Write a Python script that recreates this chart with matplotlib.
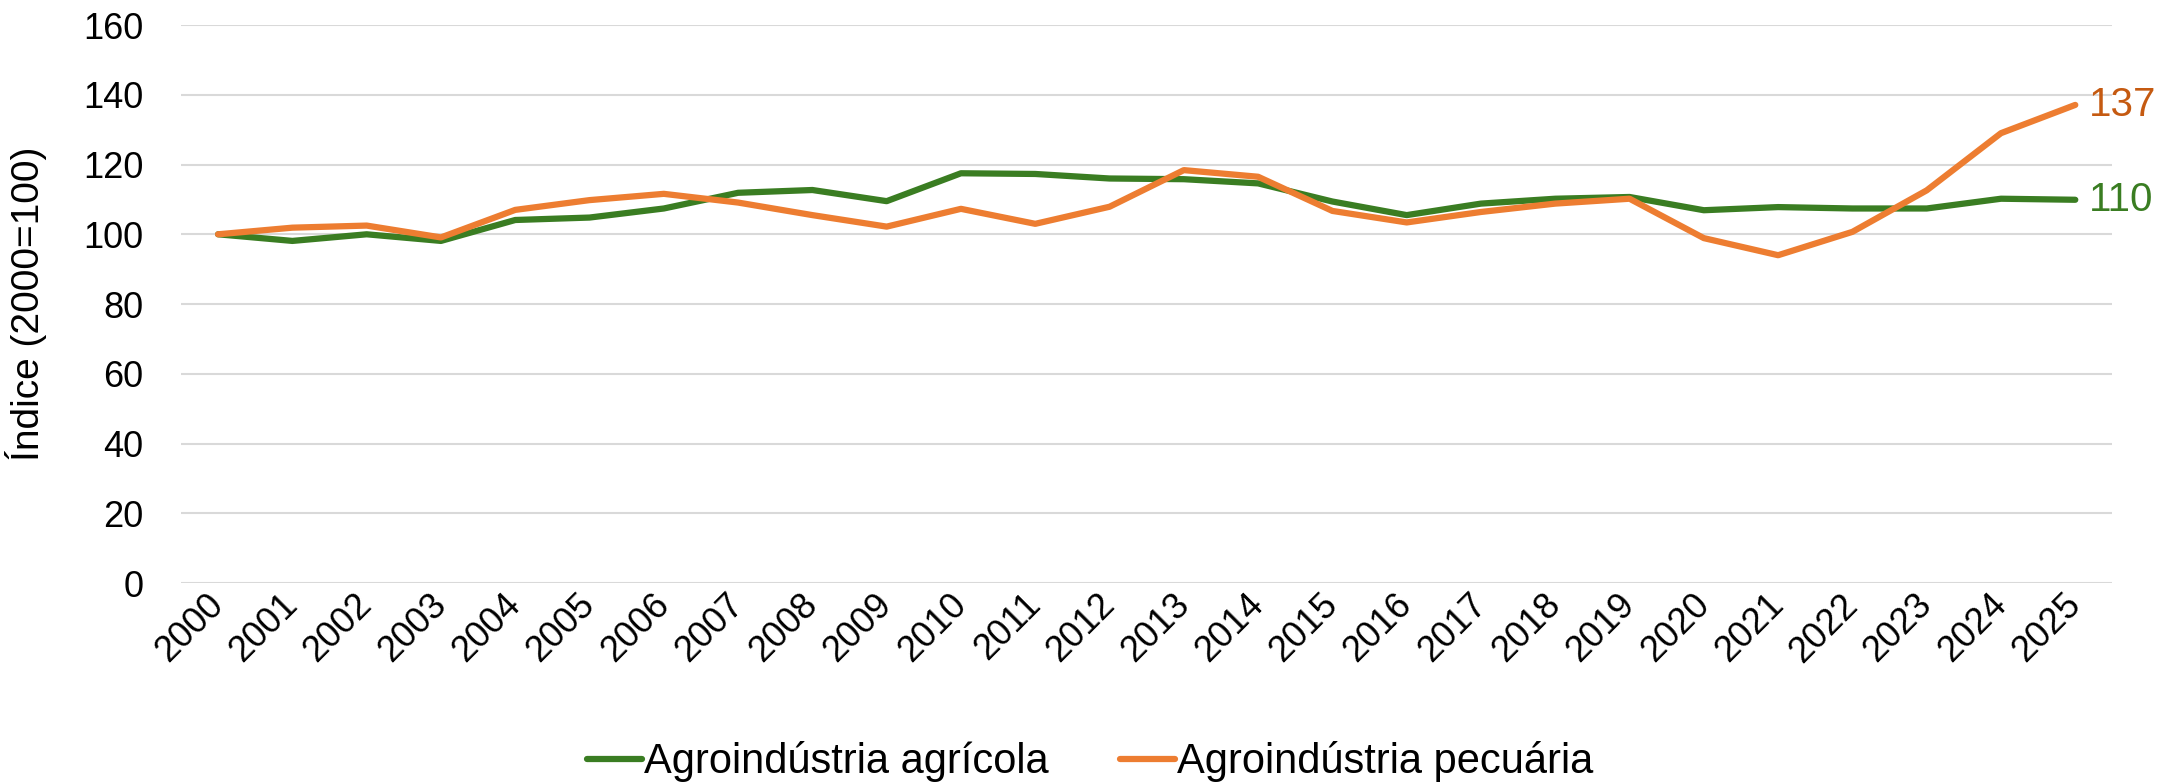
import numpy as np
from matplotlib import pyplot as plt

years = [str(y) for y in range(2000, 2026)]
agricola = [100, 98.1, 100, 98.1, 104.1, 104.8, 107.4, 111.9, 112.7, 109.5,
            117.5, 117.3, 116.0, 115.8, 114.6, 109.4, 105.5, 108.8, 110.2, 110.7,
            106.9, 107.8, 107.4, 107.4, 110.2, 109.9]
pecuaria = [100, 101.9, 102.5, 99.1, 107.0, 109.8, 111.6, 109.1, 105.5, 102.2,
            107.3, 103.0, 107.9, 118.4, 116.5, 106.7, 103.4, 106.4, 108.8, 110.2,
            98.9, 94.0, 100.7, 112.6, 129.0, 137.1]
series_names = ["Agroindústria agrícola", "Agroindústria pecuária"]
yticks = [0, 20, 40, 60, 80, 100, 120, 140, 160]

green = "#3A7D22"
orange = "#ED7D31"

plt.rcParams['font.family'] = ['Liberation Sans', 'DejaVu Sans']

fig = plt.figure(figsize=(21.8, 7.83), dpi=100)
ax = fig.add_axes([0.083, 0.2554, 0.886, 0.7126])

x = np.arange(len(years))
ax.plot(x, agricola, color=green, lw=4.5, solid_capstyle='round', label=series_names[0])
ax.plot(x, pecuaria, color=orange, lw=4.5, solid_capstyle='round', label=series_names[1])

ax.set_xlim(-0.5, len(years) - 0.5)
ax.set_ylim(0, 160)
ax.set_yticks(yticks)
ax.set_xticks(x)
ax.set_xticklabels(years, rotation=45, ha='right', va='center', rotation_mode='anchor')
ax.tick_params(axis='both', length=0, labelsize=26)
ax.tick_params(axis='y', pad=27)
ax.tick_params(axis='x', pad=12)
ax.grid(axis='y', color='#D9D9D9', lw=1.5)
ax.set_axisbelow(True)
for s in ax.spines.values():
    s.set_visible(False)
ax.set_ylabel("Índice (2000=100)", fontsize=28)
ax.yaxis.set_label_coords(-0.080, 0.5)
ax.yaxis.label.set_va('center')

ax.annotate(f"{round(pecuaria[-1])}", (x[-1], pecuaria[-1]), xytext=(10, 0),
            textcoords='offset points', va='center', ha='left', fontsize=29, color="#C55A11")
ax.annotate(f"{round(agricola[-1])}", (x[-1], agricola[-1]), xytext=(10, 0),
            textcoords='offset points', va='center', ha='left', fontsize=29, color=green)

fig.legend(loc='center', bbox_to_anchor=(0.5, 0.027), ncol=2, frameon=False,
           fontsize=30, handlelength=1.33, handletextpad=0.05, columnspacing=1.7)

fig.savefig("out.png", dpi=100)
